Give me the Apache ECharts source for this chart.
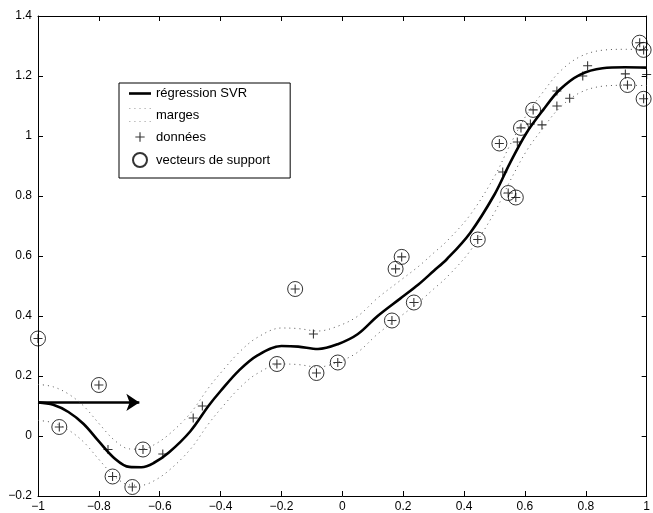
<!DOCTYPE html>
<html>
<head>
<meta charset="utf-8">
<script src="https://cdn.jsdelivr.net/npm/echarts@6/dist/echarts.min.js"></script>
<style>
  html, body { margin: 0; padding: 0; background: #fff; }
  #svrChart { width: 653px; height: 513px; }
</style>
</head>
<body>
<div id="svrChart"></div>
<script>
// SVR curve
const curveX = [-1.0, -0.95, -0.90, -0.85, -0.80, -0.75, -0.70, -0.66, -0.62, -0.57, -0.50, -0.44, -0.40, -0.34, -0.28, -0.20, -0.145, -0.08, -0.015, 0.05, 0.116, 0.19, 0.25, 0.30, 0.344, 0.42, 0.50, 0.55, 0.605, 0.66, 0.714, 0.78, 0.855, 0.93, 1.0];
const curveY = [0.112, 0.104, 0.080, 0.040, -0.018, -0.073, -0.103, -0.104, -0.090, -0.055, 0.015, 0.100, 0.150, 0.218, 0.268, 0.300, 0.298, 0.290, 0.306, 0.339, 0.400, 0.458, 0.505, 0.550, 0.590, 0.677, 0.805, 0.908, 1.010, 1.087, 1.154, 1.204, 1.226, 1.229, 1.228];
// margins (curve +/- epsilon, read as drawn)
const upperY = [0.172, 0.164, 0.140, 0.100, 0.042, -0.013, -0.043, -0.044, -0.030, 0.005, 0.075, 0.160, 0.210, 0.278, 0.328, 0.360, 0.358, 0.350, 0.366, 0.399, 0.460, 0.518, 0.565, 0.610, 0.650, 0.737, 0.865, 0.968, 1.070, 1.147, 1.214, 1.264, 1.286, 1.289, 1.288];
const lowerY = [0.052, 0.044, 0.020, -0.020, -0.078, -0.133, -0.163, -0.164, -0.150, -0.115, -0.045, 0.040, 0.090, 0.158, 0.208, 0.240, 0.238, 0.230, 0.246, 0.279, 0.340, 0.398, 0.445, 0.490, 0.530, 0.617, 0.745, 0.848, 0.950, 1.027, 1.094, 1.144, 1.166, 1.169, 1.168];

// training data
const dataX = [-1.0, -0.93, -0.80, -0.77, -0.755, -0.69, -0.655, -0.59, -0.49, -0.46, -0.215, -0.155, -0.095, -0.085, -0.015, 0.163, 0.175, 0.195, 0.235, 0.445, 0.516, 0.527, 0.545, 0.57, 0.575, 0.587, 0.618, 0.627, 0.656, 0.705, 0.705, 0.747, 0.79, 0.806, 0.93, 0.937, 0.977, 0.99, 0.99, 1.0];
const dataY = [0.325, 0.03, 0.17, -0.045, -0.135, -0.17, -0.045, -0.06, 0.06, 0.10, 0.24, 0.49, 0.34, 0.21, 0.245, 0.385, 0.557, 0.597, 0.445, 0.655, 0.975, 0.88, 0.81, 0.795, 0.98, 1.027, 1.04, 1.087, 1.037, 1.10, 1.15, 1.126, 1.20, 1.234, 1.207, 1.17, 1.311, 1.287, 1.124, 1.205];
// support vectors
const svX = [-1.0, -0.93, -0.80, -0.755, -0.69, -0.655, -0.215, -0.155, -0.085, -0.015, 0.163, 0.175, 0.195, 0.235, 0.445, 0.516, 0.545, 0.57, 0.587, 0.627, 0.937, 0.977, 0.99, 0.99];
const svY = [0.325, 0.03, 0.17, -0.135, -0.17, -0.045, 0.24, 0.49, 0.21, 0.245, 0.385, 0.557, 0.597, 0.445, 0.655, 0.975, 0.81, 0.795, 1.027, 1.087, 1.17, 1.311, 1.287, 1.124];

// arrow
const arrowX = [-1.0, -0.667];
const arrowY = [0.112, 0.112];

const legendNames = ['régression SVR', 'marges', 'données', 'vecteurs de support'];

document.addEventListener('DOMContentLoaded', () => {

    const chart = echarts.init(document.getElementById('svrChart'));

    const zip = (xs, ys) => xs.map((x, i) => [x, ys[i]]);
    const minusSign = (v) => String(v).replace('-', '\u2212');
    const FONT = 'Liberation Sans';

    const plusPath  = 'path://M4.4,0H5.6V4.4H10V5.6H5.6V10H4.4V5.6H0V4.4H4.4Z';
    // legend icons
    const thickLine = 'path://M0,0H22V2.6H0Z';
    const dotRows   = 'path://M1,0h0.8v0.8h-0.8zM6,0h0.8v0.8h-0.8zM11,0h0.8v0.8h-0.8zM16,0h0.8v0.8h-0.8zM21,0h0.8v0.8h-0.8z' +
                      'M1,13h0.8v0.8h-0.8zM6,13h0.8v0.8h-0.8zM11,13h0.8v0.8h-0.8zM16,13h0.8v0.8h-0.8zM21,13h0.8v0.8h-0.8z';
    const smallPlus = 'path://M-2.5,-2.5M12.5,12.5M4.4,0H5.6V4.4H10V5.6H5.6V10H4.4V5.6H0V4.4H4.4Z';

    const xAxisBase = {
        type: 'value', min: -1, max: 1, interval: 0.2,
        axisLine: { show: true, onZero: false, lineStyle: { color: '#000', width: 1 } },
        axisTick: { show: true, inside: true, length: 5, lineStyle: { color: '#000' } },
        splitLine: { show: false },
    };
    const yAxisBase = {
        type: 'value', min: -0.2, max: 1.4, interval: 0.2,
        axisLine: { show: true, onZero: false, lineStyle: { color: '#000', width: 1 } },
        axisTick: { show: true, inside: true, length: 5, lineStyle: { color: '#000' } },
        splitLine: { show: false },
    };

    const option = {
        animation: false,
        backgroundColor: '#fff',
        grid: { left: 38, right: 2, top: 16, bottom: 16 },
        xAxis: [
            Object.assign({}, xAxisBase, { position: 'bottom',
                axisLabel: { color: '#000', fontFamily: FONT, fontSize: 12, margin: 5,
                    formatter: (v) => minusSign(Math.round(v * 10) / 10) } }),
            Object.assign({}, xAxisBase, { position: 'top', axisLabel: { show: false } }),
        ],
        yAxis: [
            Object.assign({}, yAxisBase, { position: 'left',
                axisLabel: { color: '#000', fontFamily: FONT, fontSize: 12, margin: 6,
                    formatter: (v) => minusSign(Math.round(v * 10) / 10) } }),
            Object.assign({}, yAxisBase, { position: 'right', axisLabel: { show: false } }),
        ],
        legend: {
            data: [
                { name: legendNames[0], icon: thickLine },
                { name: legendNames[1], icon: dotRows },
                { name: legendNames[2], icon: smallPlus },
                { name: legendNames[3] },
            ],
            orient: 'vertical',
            left: 119, top: 83,
            padding: [4, 20, 10, 10],
            itemGap: 8,
            itemWidth: 22, itemHeight: 14,
            backgroundColor: '#fff',
            borderColor: '#000', borderWidth: 1,
            textStyle: { color: '#000', fontFamily: FONT, fontSize: 13 },
        },
        series: [
            {
                name: 'marges', type: 'line', data: zip(curveX, upperY),
                smooth: 0.35, showSymbol: false, symbol: 'none',
                itemStyle: { color: '#555' },
                lineStyle: { color: '#555', width: 1, type: [1, 4] },
            },
            {
                name: 'marges', type: 'line', data: zip(curveX, lowerY),
                smooth: 0.35, showSymbol: false, symbol: 'none',
                itemStyle: { color: '#555' },
                lineStyle: { color: '#555', width: 1, type: [1, 4] },
            },
            {
                name: 'régression SVR', type: 'line', data: zip(curveX, curveY),
                smooth: 0.35, showSymbol: false, symbol: 'none',
                lineStyle: { color: '#000', width: 2.6 },
                itemStyle: { color: '#000' },
            },
            {
                name: 'données', type: 'scatter', data: zip(dataX, dataY),
                symbol: plusPath, symbolSize: 9,
                itemStyle: { color: '#000' },
            },
            {
                name: 'vecteurs de support', type: 'scatter', data: zip(svX, svY),
                symbol: 'circle', symbolSize: 15,
                itemStyle: { color: 'rgba(0,0,0,0)', borderColor: '#000', borderWidth: 1 },
            },
            {
                name: 'arrow', type: 'lines', coordinateSystem: 'cartesian2d',
                data: [{ coords: zip(arrowX, arrowY) }],
                symbol: ['none', 'arrow'], symbolSize: 13,
                lineStyle: { color: '#000', width: 2.5, opacity: 1 },
            },
        ],
    };

    chart.setOption(option);
});
</script>
</body>
</html>
